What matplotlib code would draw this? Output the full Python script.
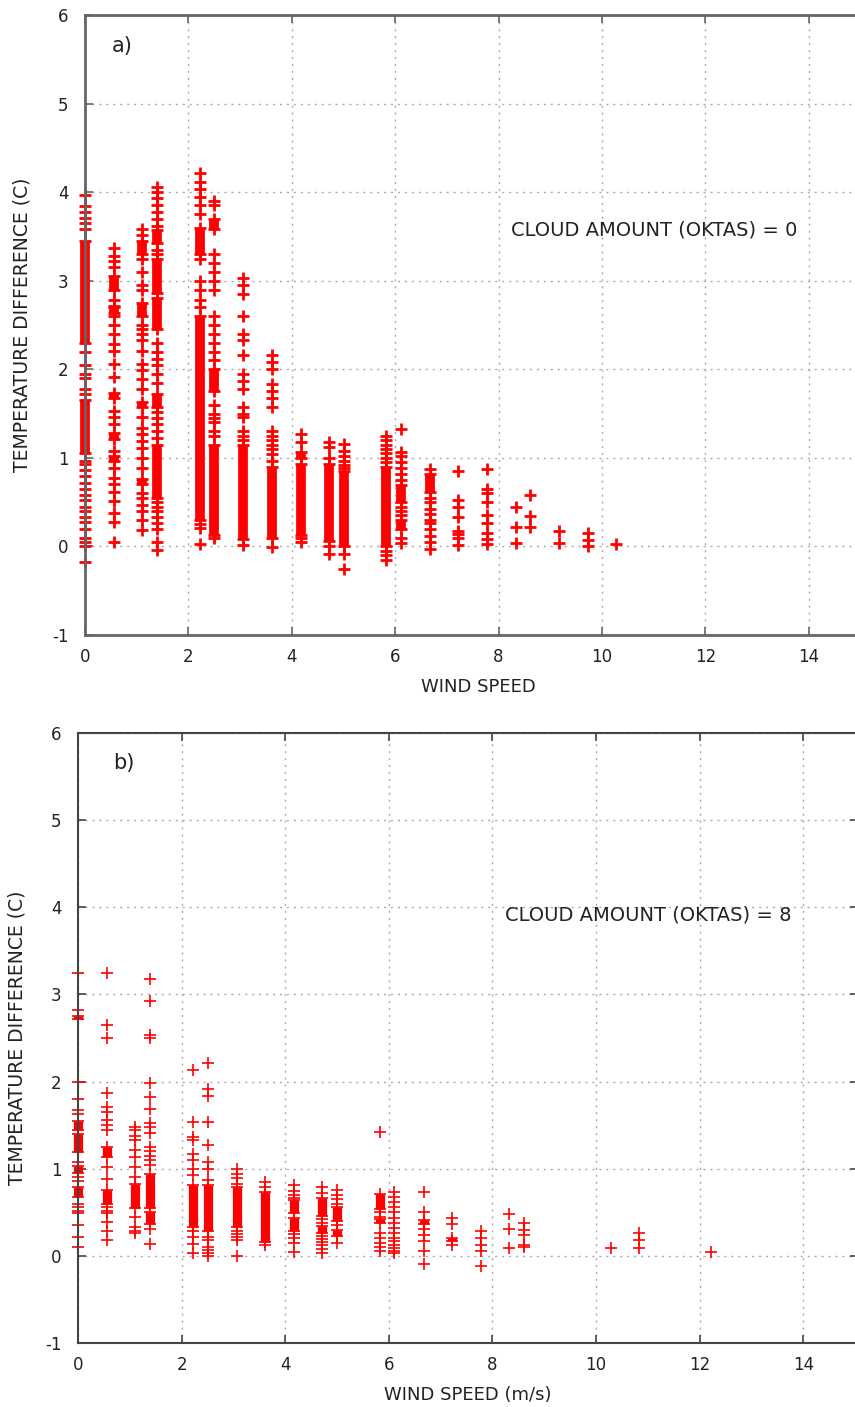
import matplotlib.pyplot as plt

plt.rcParams['axes.unicode_minus'] = False

# wind speed columns (m/s)
a_speed = [0, 0.56, 1.11, 1.39, 2.22, 2.5, 3.06, 3.61, 4.17, 4.72, 5.0,
           5.83, 6.11, 6.67, 7.22, 7.78, 8.33, 8.61, 9.17, 9.72, 10.28]
# single readable points per column
a_points = [
    [3.97, 3.84, 3.78, 3.71, 3.65, 3.58, 2.2, 2.05, 1.95, 1.9, 1.78, 1.72, 0.97, 0.93,
     0.86, 0.8, 0.72, 0.65, 0.58, 0.52, 0.45, 0.4, 0.33, 0.28, 0.2, 0.1, 0.05, 0.0, -0.18],
    [3.37, 3.28, 3.22, 3.15, 2.78, 2.72, 2.6, 2.5, 2.4, 2.29, 2.21, 2.06, 1.91, 1.53,
     1.46, 1.38, 1.08, 0.89, 0.77, 0.7, 0.62, 0.51, 0.38, 0.28, 0.05],
    [3.58, 3.52, 3.25, 3.1, 2.95, 2.9, 2.5, 2.45, 2.4, 2.33, 2.21, 2.06, 1.99, 1.89,
     1.78, 1.46, 1.34, 1.27, 1.19, 1.11, 1.0, 0.89, 0.6, 0.55, 0.47, 0.4, 0.3, 0.19],
    [4.06, 4.0, 3.93, 3.85, 3.78, 3.7, 3.62, 3.35, 3.3, 2.3, 2.2, 2.12, 2.05, 1.95,
     1.85, 1.52, 1.45, 1.38, 1.3, 1.22, 0.5, 0.45, 0.4, 0.33, 0.27, 0.2, 0.05, -0.04],
    [4.22, 4.12, 4.03, 3.95, 3.85, 3.75, 3.25, 3.0, 2.9, 2.78, 2.7, 0.25, 0.21, 0.03],
    [3.9, 3.85, 3.3, 3.2, 3.1, 3.0, 2.9, 2.6, 2.5, 2.4, 2.3, 2.2, 2.1, 1.6, 1.5, 1.45,
     1.4, 1.3, 1.25, 0.1],
    [3.03, 2.95, 2.85, 2.6, 2.4, 2.33, 2.16, 1.95, 1.87, 1.78, 1.57, 1.5, 1.46, 1.3,
     1.25, 1.2, 0.02],
    [2.16, 2.08, 2.0, 1.83, 1.76, 1.68, 1.57, 1.3, 1.25, 1.2, 1.15, 1.1, 1.04, 0.97, -0.01],
    [1.27, 1.18, 0.1, 0.05],
    [1.18, 1.12, 1.0, 0.0, -0.08],
    [1.16, 1.08, 1.02, 0.97, 0.92, 0.88, -0.09, -0.26],
    [1.25, 1.2, 1.15, 1.1, 1.05, 1.0, 0.95, -0.05, -0.1, -0.15],
    [1.33, 1.07, 1.02, 0.95, 0.88, 0.82, 0.75, 0.45, 0.4, 0.35, 0.1, 0.04],
    [0.87, 0.55, 0.5, 0.42, 0.37, 0.3, 0.27, 0.2, 0.12, 0.05, -0.03],
    [0.85, 0.52, 0.45, 0.33, 0.17, 0.14, 0.1, 0.02],
    [0.87, 0.65, 0.6, 0.5, 0.35, 0.27, 0.15, 0.08, 0.03],
    [0.45, 0.22, 0.04],
    [0.58, 0.34, 0.22],
    [0.17, 0.04],
    [0.15, 0.07, 0.0],
    [0.03],
]
# ranges where the crosses merge into a solid block
a_bands = [
    [(2.3, 3.45), (1.05, 1.65)],
    [(2.9, 3.05), (2.63, 2.7), (1.68, 1.73), (1.21, 1.28), (0.96, 1.02)],
    [(3.3, 3.45), (2.6, 2.75), (1.57, 1.63), (0.7, 0.76)],
    [(3.43, 3.57), (2.86, 3.25), (2.45, 2.8), (1.57, 1.72), (0.55, 1.15)],
    [(3.3, 3.6), (0.3, 2.6)],
    [(3.58, 3.7), (1.76, 2.0), (0.13, 1.15)],
    [(0.08, 1.15)],
    [(0.1, 0.9)],
    [(1.0, 1.07), (0.13, 0.93)],
    [(0.06, 0.93)],
    [(0.0, 0.85)],
    [(0.0, 0.9)],
    [(0.5, 0.69), (0.2, 0.3)],
    [(0.62, 0.82)],
    [], [], [], [], [], [], [],
]

b_speed = [0, 0.56, 1.11, 1.39, 2.22, 2.5, 3.06, 3.61, 4.17, 4.72, 5.0,
           5.83, 6.11, 6.67, 7.22, 7.78, 8.33, 8.61, 10.28, 10.83, 12.22]
b_points = [
    [3.25, 2.82, 2.0, 1.8, 1.67, 1.63, 1.08, 0.9, 0.86, 0.6, 0.56, 0.52, 0.49, 0.35,
     0.22, 0.1],
    [3.25, 2.65, 2.5, 1.87, 1.71, 1.65, 1.56, 1.5, 1.44, 1.02, 0.88, 0.56, 0.52, 0.49,
     0.39, 0.28, 0.18],
    [1.48, 1.44, 1.38, 1.33, 1.21, 1.14, 1.02, 0.91, 0.45, 0.33, 0.28, 0.26],
    [3.18, 2.92, 2.53, 2.5, 1.98, 1.82, 1.69, 1.52, 1.48, 1.41, 1.25, 1.2, 1.15, 1.1,
     1.04, 0.31, 0.14],
    [2.13, 1.54, 1.36, 1.33, 1.17, 1.1, 1.0, 0.93, 0.28, 0.22, 0.14, 0.03],
    [2.21, 1.92, 1.83, 1.54, 1.27, 1.08, 1.0, 0.87, 0.22, 0.18, 0.1, 0.07, 0.03, 0.0],
    [1.0, 0.94, 0.89, 0.83, 0.28, 0.25, 0.22, 0.18, 0.0],
    [0.85, 0.79, 0.12],
    [0.81, 0.75, 0.7, 0.66, 0.25, 0.2, 0.15, 0.04],
    [0.79, 0.72, 0.42, 0.38, 0.23, 0.19, 0.16, 0.13, 0.08, 0.03],
    [0.76, 0.7, 0.65, 0.6, 0.35, 0.15],
    [1.42, 0.5, 0.45, 0.26, 0.2, 0.15, 0.1, 0.06],
    [0.73, 0.68, 0.62, 0.56, 0.5, 0.44, 0.38, 0.32, 0.26, 0.21, 0.17, 0.13, 0.09,
     0.06, 0.03],
    [0.73, 0.5, 0.31, 0.24, 0.17, 0.06, -0.09],
    [0.43, 0.36, 0.13],
    [0.28, 0.21, 0.13, 0.06, -0.12],
    [0.48, 0.31, 0.09],
    [0.38, 0.3, 0.24, 0.13, 0.1],
    [0.09],
    [0.26, 0.18, 0.09],
    [0.04],
]
b_bands = [
    [(2.72, 2.75), (1.45, 1.55), (1.19, 1.4), (0.95, 1.03), (0.68, 0.79)],
    [(1.14, 1.25), (0.6, 0.76)],
    [(0.55, 0.83)],
    [(0.55, 0.94), (0.37, 0.5)],
    [(0.33, 0.81)],
    [(0.28, 0.81)],
    [(0.33, 0.79)],
    [(0.16, 0.73)],
    [(0.49, 0.64), (0.29, 0.43)],
    [(0.46, 0.66), (0.26, 0.34)],
    [(0.4, 0.56), (0.23, 0.3)],
    [(0.54, 0.71), (0.38, 0.42)],
    [],
    [(0.36, 0.41)],
    [(0.17, 0.2)],
    [], [], [], [], [], [],
]

x_ticks = [0, 2, 4, 6, 8, 10, 12, 14]
y_ticks = [-1, 0, 1, 2, 3, 4, 5, 6]

fig = plt.figure(figsize=(8.55, 14.07), dpi=100)
ax_a = fig.add_axes([85 / 855, 1 - 635 / 1407, 786 / 855, 620 / 1407])
ax_b = fig.add_axes([78 / 855, 1 - 1343 / 1407, 780 / 855, 610 / 1407])


def scatter_panel(ax, speeds, points, bands, ms, mew):
    for x, ys, bs in zip(speeds, points, bands):
        ax.plot([x] * len(ys), ys, '+', color='red', ms=ms, mew=mew, clip_on=False, zorder=2)
        for lo, hi in bs:
            ax.vlines(x, lo, hi, color='red', lw=ms * 0.78, clip_on=False, zorder=2)
            ax.plot([x, x], [lo, hi], '+', color='red', ms=ms, mew=mew, clip_on=False, zorder=2)


def style(ax, xmax, xlabel, note, note_y, tag, tag_x, spine_col, spine_w, ypad):
    ax.set_xlim(0, xmax)
    ax.set_ylim(-1, 6)
    ax.set_xticks(x_ticks)
    ax.set_yticks(y_ticks)
    ax.grid(True, linestyle=(0, (1.5, 3.5)), color='#aaaaaa', lw=1)
    ax.tick_params(direction='in', top=True, right=True, length=6, width=1.2,
                   color=spine_col, labelsize=12, labelcolor='#222222')
    ax.tick_params(axis='y', pad=12)
    ax.tick_params(axis='x', pad=9)
    for s in ax.spines.values():
        s.set_color(spine_col)
        s.set_linewidth(spine_w)
    ax.set_xlabel(xlabel, fontsize=13, color='#222222', labelpad=9)
    ax.set_ylabel('TEMPERATURE DIFFERENCE (C)', fontsize=13.5, color='#222222',
                  labelpad=ypad)
    ax.text(8.24, note_y, note, fontsize=14, color='#222222', va='center')
    ax.text(tag_x, 5.65, tag, fontsize=15, color='#222222', va='center')


scatter_panel(ax_a, a_speed, a_points, a_bands, 9, 2)
scatter_panel(ax_b, b_speed, b_points, b_bands, 8.5, 1.2)

style(ax_a, 786 / 51.7, 'WIND SPEED', 'CLOUD AMOUNT (OKTAS) = 0', 3.57, 'a)', 0.52,
      '#666666', 2, 15)
style(ax_b, 780 / 51.8, 'WIND SPEED (m/s)', 'CLOUD AMOUNT (OKTAS) = 8', 3.91, 'b)', 0.68,
      '#444444', 1.5, 13)

fig.savefig('out.png', dpi=100)
